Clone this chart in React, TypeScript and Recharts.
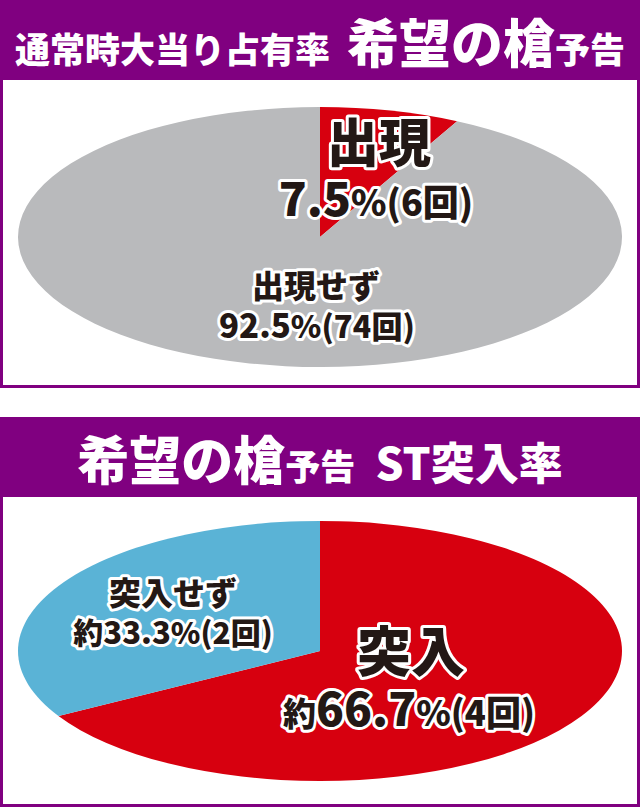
import { PieChart, Pie, Cell, Sector } from "recharts";

const FONT = '"Noto Sans CJK JP", "Noto Sans", sans-serif';
const PURPLE = "#800080";

// 通常時大当り占有率 (回数)
const shareNames = ["出現", "出現せず"];
const shareCounts = [6, 74];
const shareColors = ["#d7000f", "#b9babc"];

// ST突入率 (回数)
const stNames = ["突入", "突入せず"];
const stCounts = [4, 2];
const stColors = ["#d7000f", "#5ab3d6"];

const toRows = (names: string[], counts: number[]) =>
  names.map((name, i) => ({ name, value: counts[i] }));

// label placement / sizes, relative to pie centre
const shareLabelStyle = [
  { dx: 59, dy: -94, dx2: 56, dy2: -38, name: 52, pre: 36, num: 46, unit: 36 },
  { dx: -4, dy: 49, dx2: -3, dy2: 89, name: 32, pre: 32, num: 33, unit: 31 },
];
const stLabelStyle = [
  { dx: 91, dy: 1, dx2: 89, dy2: 58, name: 54, pre: 33, num: 46, unit: 35 },
  { dx: -147, dy: -58, dx2: -147, dy2: -18, name: 32, pre: 30, num: 31, unit: 30 },
];

const RX = 302;
const RY = 130;

const ellipseShape = (props: any) => {
  const { cy } = props;
  return (
    <g transform={`translate(0 ${cy}) scale(1 ${RY / RX}) translate(0 ${-cy})`}>
      <Sector {...props} stroke="none" />
    </g>
  );
};

const textBase = {
  fill: "#231815",
  stroke: "#fff",
  strokeWidth: 6,
  strokeLinejoin: "round" as const,
  paintOrder: "stroke",
  fontFamily: FONT,
  fontWeight: 900,
  textAnchor: "middle" as const,
};

function makeLabel(styles: typeof shareLabelStyle, prefix: string) {
  return (props: any) => {
    const { cx, cy, index, name, percent } = props;
    const s = styles[index];
    const pct = (percent * 100).toFixed(1);
    const big = Math.max(s.num, s.unit, s.pre);
    return (
      <g>
        <text {...textBase} x={cx + s.dx} y={cy + s.dy + s.name * 0.37} fontSize={s.name}>
          {name}
        </text>
        <text {...textBase} x={cx + s.dx2} y={cy + s.dy2 + big * 0.37}>
          {prefix && <tspan fontSize={s.pre}>{prefix}</tspan>}
          <tspan fontSize={s.num}>{pct}</tspan>
          <tspan fontSize={s.unit}>%({props.value}回)</tspan>
        </text>
      </g>
    );
  };
}

function Header({ top, children }: { top: number; children: any }) {
  return (
    <div
      style={{
        position: "absolute",
        left: 0,
        top,
        width: 640,
        height: 80,
        background: PURPLE,
        color: "#fff",
        fontFamily: FONT,
        fontWeight: 900,
        display: "flex",
        alignItems: "center",
        justifyContent: "center",
        whiteSpace: "nowrap",
      }}
    >
      <div style={{ display: "flex", alignItems: "baseline" }}>{children}</div>
    </div>
  );
}

function PiePanel({
  top,
  height,
  cy,
  names,
  counts,
  colors,
  styles,
  prefix,
}: {
  top: number;
  height: number;
  cy: number;
  names: string[];
  counts: number[];
  colors: string[];
  styles: typeof shareLabelStyle;
  prefix: string;
}) {
  return (
    <div
      style={{
        position: "absolute",
        left: 0,
        top,
        width: 640,
        height,
        boxSizing: "border-box",
        border: `3px solid ${PURPLE}`,
        borderTop: "none",
        background: "#fff",
      }}
    >
      <div style={{ position: "absolute", left: -3, top: 0 }}>
        <PieChart width={640} height={height} margin={{ top: 0, right: 0, bottom: 0, left: 0 }}>
          <Pie
            data={toRows(names, counts)}
            dataKey="value"
            nameKey="name"
            cx={320}
            cy={cy}
            outerRadius={RX}
            startAngle={90}
            endAngle={-270}
            stroke="none"
            shape={ellipseShape}
            label={makeLabel(styles, prefix)}
            labelLine={false}
            isAnimationActive={false}
          >
            {colors.map((c, i) => (
              <Cell key={i} fill={c} />
            ))}
          </Pie>
        </PieChart>
      </div>
    </div>
  );
}

export default function App() {
  return (
    <div style={{ position: "absolute", left: 0, top: 0, width: 640, height: 807, background: "#fff", overflow: "hidden" }}>
      <Header top={0}>
        <span style={{ fontSize: 35 }}>通常時大当り占有率</span>
        <span style={{ fontSize: 52, marginLeft: 17 }}>希望の槍</span>
        <span style={{ fontSize: 35 }}>予告</span>
      </Header>
      <PiePanel
        top={80}
        height={308}
        cy={157}
        names={shareNames}
        counts={shareCounts}
        colors={shareColors}
        styles={shareLabelStyle}
        prefix=""
      />
      <Header top={417}>
        <span style={{ fontSize: 52 }}>希望の槍</span>
        <span style={{ fontSize: 35 }}>予告</span>
        <span style={{ fontSize: 44, marginLeft: 20 }}>ST突入率</span>
      </Header>
      <PiePanel
        top={497}
        height={310}
        cy={154}
        names={stNames}
        counts={stCounts}
        colors={stColors}
        styles={stLabelStyle}
        prefix="約"
      />
    </div>
  );
}
